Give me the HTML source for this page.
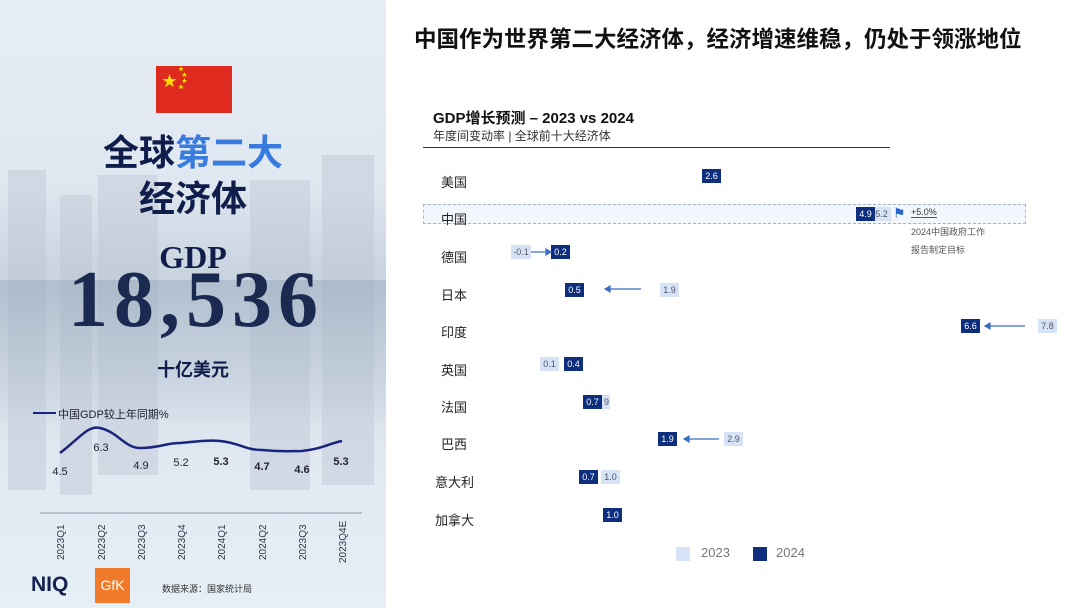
<!DOCTYPE html>
<html><head><meta charset="utf-8"><style>
*{margin:0;padding:0;box-sizing:border-box}
body{width:1080px;height:608px;position:relative;overflow:hidden;background:#fff;font-family:"Liberation Sans","Noto Sans CJK SC",sans-serif;color:#222}
.a{position:absolute;white-space:nowrap}
.left{position:absolute;left:0;top:0;width:386px;height:608px;background:linear-gradient(180deg,#e6edf5 0%,#dfe7f0 30%,#c9d4e0 45%,#d3dce6 60%,#e0e8f1 75%,#e6eef6 100%);overflow:hidden}
.bld{position:absolute;background:#b8c3cf;opacity:.4}
.b{position:absolute;height:14px;width:19px;font-size:9px;line-height:14px;text-align:center}
.d{background:#0d2f7d;color:#fff}
.l{background:#d6e2f6;color:#556}
.lab{position:absolute;left:441px;font-size:13px;color:#222}
</style></head><body>
<div class="left">
<div class="bld" style="left:8px;top:170px;width:38px;height:320px"></div>
<div class="bld" style="left:60px;top:195px;width:32px;height:300px"></div>
<div class="bld" style="left:98px;top:175px;width:60px;height:300px"></div>
<div class="bld" style="left:250px;top:180px;width:60px;height:310px"></div>
<div class="bld" style="left:322px;top:155px;width:52px;height:330px"></div>
<div style="position:absolute;left:0;top:280px;width:386px;height:140px;background:linear-gradient(180deg,rgba(120,140,165,.3),rgba(200,212,225,.2))"></div>
<div class="a" style="left:156px;top:66px;width:76px;height:47px;background:#de2a1f"></div>
<div class="a" style="left:162px;top:70px;color:#ffde00;font-size:15px">★</div>
<div class="a" style="left:178px;top:67px;color:#ffde00;font-size:6px;line-height:6px">★<br>&nbsp;&nbsp;★<br>&nbsp;&nbsp;★<br>★</div>
<div class="a" style="left:0;width:386px;text-align:center;top:130px;font-size:36px;font-weight:bold;color:#0f1d4a;line-height:46px">全球<span style="color:#3a7be0">第二大</span></div>
<div class="a" style="left:0;width:386px;text-align:center;top:176px;font-size:36px;font-weight:bold;color:#0f1d4a;line-height:46px">经济体</div>
<div class="a" style="left:0;width:386px;text-align:center;top:238px;font-size:32px;font-weight:bold;color:#0f1d4a;font-family:'Liberation Serif',serif;line-height:38px">GDP</div>
<div class="a" style="left:0;width:386px;text-align:center;top:260px;font-size:80px;font-weight:bold;color:#1a2a50;font-family:'Liberation Serif',serif;line-height:80px;letter-spacing:6px;padding-left:6px">18,536</div>
<div class="a" style="left:0;width:386px;text-align:center;top:356px;font-size:18px;font-weight:bold;color:#0f1d4a">十亿美元</div>
<div class="a" style="left:33px;top:412px;width:23px;height:2px;background:#1a237e"></div>
<div class="a" style="left:58px;top:406px;font-size:11px;color:#223">中国GDP较上年同期%</div>
<svg class="a" style="left:0;top:0" width="386" height="608">
<path d="M60,453 C80,438 88,425 100,428 C118,432 125,448 140,448 C160,448 165,443 180,443 C200,441 210,440 220,441 C240,443 245,450 262,450 C282,452 290,451 302,451 C322,449 330,443 342,441" fill="none" stroke="#1a237e" stroke-width="2.5"/>
<line x1="40" y1="513" x2="362" y2="513" stroke="#8a96a6" stroke-width="1"/>
<g font-size="11" fill="#223" text-anchor="middle" font-family="Liberation Sans,sans-serif">
<text x="60" y="475">4.5</text><text x="101" y="451">6.3</text><text x="141" y="469">4.9</text><text x="181" y="466">5.2</text>
<text x="221" y="465" font-weight="bold">5.3</text><text x="262" y="470" font-weight="bold">4.7</text><text x="302" y="473" font-weight="bold">4.6</text><text x="341" y="465" font-weight="bold">5.3</text>
</g>
<g font-size="10" fill="#334" font-family="Liberation Sans,sans-serif">
<text transform="translate(64,560) rotate(-90)">2023Q1</text><text transform="translate(105,560) rotate(-90)">2023Q2</text>
<text transform="translate(145,560) rotate(-90)">2023Q3</text><text transform="translate(185,560) rotate(-90)">2023Q4</text>
<text transform="translate(225,560) rotate(-90)">2024Q1</text><text transform="translate(266,560) rotate(-90)">2024Q2</text>
<text transform="translate(306,560) rotate(-90)">2023Q3</text><text transform="translate(346,563) rotate(-90)">2023Q4E</text>
</g>
</svg>
<div class="a" style="left:31px;top:573px;font-size:21px;font-weight:bold;color:#14204f">NIQ</div>
<div class="a" style="left:95px;top:568px;width:35px;height:35px;background:#f07a2a;color:#fff;font-size:14px;line-height:35px;text-align:center">GfK</div>
<div class="a" style="left:162px;top:582px;font-size:9px;color:#333">数据来源：国家统计局</div>
</div>

<div class="a" style="left:414px;top:22px;font-size:22.5px;font-weight:bold;color:#111">中国作为世界第二大经济体，经济增速维稳，仍处于领涨地位</div>
<div class="a" style="left:433px;top:107px;font-size:15px;font-weight:bold;color:#111">GDP增长预测 – 2023 vs 2024</div>
<div class="a" style="left:433px;top:127px;font-size:12px;color:#333">年度间变动率 | 全球前十大经济体</div>
<div class="a" style="left:423px;top:147px;width:467px;height:1px;background:#333"></div>
<div class="a" style="left:423px;top:204px;width:603px;height:20px;border:1px dashed #9fb3d6;background:#f3f7fd"></div>

<div class="lab" style="top:172px">美国</div><div class="lab" style="top:209px">中国</div><div class="lab" style="top:247px">德国</div>
<div class="lab" style="top:285px">日本</div><div class="lab" style="top:322px">印度</div><div class="lab" style="top:360px">英国</div>
<div class="lab" style="top:397px">法国</div><div class="lab" style="top:434px">巴西</div><div class="lab" style="top:472px;left:435px">意大利</div>
<div class="lab" style="top:510px;left:435px">加拿大</div>

<div class="b d" style="left:702px;top:169px">2.6</div>
<div class="b l" style="left:872px;top:207px">5.2</div><div class="b d" style="left:856px;top:207px">4.9</div>
<div class="a" style="left:893px;top:205px;font-size:14px;color:#2a66c8">⚑</div>
<div class="a" style="left:911px;top:207px;font-size:9px;color:#333;border-bottom:1px solid #555">+5.0%</div>
<div class="a" style="left:911px;top:225px;font-size:9px;color:#555">2024中国政府工作</div>
<div class="a" style="left:911px;top:243px;font-size:9px;color:#555">报告制定目标</div>
<div class="b l" style="left:511px;top:245px;width:20px">-0.1</div><div class="b d" style="left:551px;top:245px">0.2</div>
<div class="b d" style="left:565px;top:283px">0.5</div><div class="b l" style="left:660px;top:283px">1.9</div>
<div class="b d" style="left:961px;top:319px">6.6</div><div class="b l" style="left:1038px;top:319px">7.8</div>
<div class="b l" style="left:540px;top:357px">0.1</div><div class="b d" style="left:564px;top:357px">0.4</div>
<div class="b l" style="left:596px;top:395px;width:14px;text-align:right;padding-right:1px">9</div><div class="b d" style="left:583px;top:395px">0.7</div>
<div class="b d" style="left:658px;top:432px">1.9</div><div class="b l" style="left:724px;top:432px">2.9</div>
<div class="b d" style="left:579px;top:470px">0.7</div><div class="b l" style="left:601px;top:470px">1.0</div>
<div class="b d" style="left:603px;top:508px">1.0</div>
<svg class="a" style="left:0;top:0" width="1080" height="608">
<g stroke="#3a6cc0" stroke-width="1.2" fill="#3a6cc0">
<line x1="531" y1="252" x2="546" y2="252"/><path d="M551,252 l-5,-3 v6z"/>
<line x1="610" y1="289" x2="641" y2="289"/><path d="M605,289 l5,-3 v6z"/>
<line x1="990" y1="326" x2="1025" y2="326"/><path d="M985,326 l5,-3 v6z"/>
<line x1="689" y1="439" x2="719" y2="439"/><path d="M684,439 l5,-3 v6z"/>
</g></svg>
<div class="a" style="left:676px;top:547px;width:14px;height:14px;background:#d6e2f6"></div>
<div class="a" style="left:701px;top:545px;font-size:13px;color:#777">2023</div>
<div class="a" style="left:753px;top:547px;width:14px;height:14px;background:#0d2f7d"></div>
<div class="a" style="left:776px;top:545px;font-size:13px;color:#777">2024</div>
</body></html>
